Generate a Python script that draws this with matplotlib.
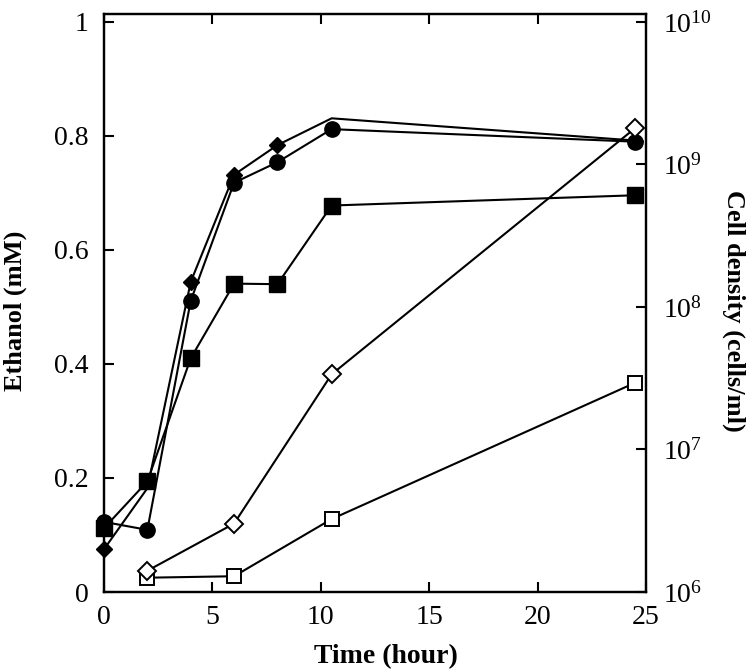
import matplotlib
matplotlib.use("Agg")
import matplotlib.pyplot as plt
import numpy as np

plt.rcParams['font.family'] = ['Liberation Serif', 'DejaVu Serif']
plt.rcParams['mathtext.fontset'] = 'custom'
plt.rcParams['mathtext.rm'] = 'Liberation Serif'
plt.rcParams['mathtext.it'] = 'Liberation Serif:italic'
plt.rcParams['mathtext.bf'] = 'Liberation Serif:bold'

# ---- data ----
time_full = [0, 2, 4, 6, 8, 10.5, 24.5]
ethanol_diamond = [0.075, 0.182, 0.544, 0.732, 0.784, 0.831, 0.792]
ethanol_circle = [0.123, 0.109, 0.511, 0.718, 0.754, 0.812, 0.790]
ethanol_square = [0.112, 0.194, 0.410, 0.541, 0.540, 0.678, 0.696]

time_cells = [2, 6, 10.5, 24.5]
cells_diamond = [1.41e6, 3.02e6, 3.37e7, 1.80e9]
cells_square = [1.26e6, 1.29e6, 3.25e6, 2.94e7]

xticks = [0, 5, 10, 15, 20, 25]
yticks_left = [0, 0.2, 0.4, 0.6, 0.8, 1.0]
yticklabels_left = ['0', '0.2', '0.4', '0.6', '0.8', '1']
yticks_right = [1e6, 1e7, 1e8, 1e9, 1e10]

fig = plt.figure(figsize=(7.5, 6.72), dpi=100)
ax = fig.add_axes([104/750, 1-592/672, 542/750, 578/672])

lw = 1.5
ax.plot(time_full, ethanol_diamond, '-', color='black', lw=lw, marker='D',
        ms=8.5, mfc='black', mec='black', markevery=[0, 2, 3, 4, 6],
        zorder=3, clip_on=False)
ax.plot(time_full, ethanol_circle, '-', color='black', lw=lw, marker='o',
        ms=11, mfc='black', mec='black', zorder=4, clip_on=False)
ax.plot(time_full, ethanol_square, '-', color='black', lw=lw, marker='s',
        ms=12, mfc='black', mec='black', zorder=5, clip_on=False)

ax.set_xlim(0, 25)
ax.set_ylim(0, 1.014)
ax.set_xticks(xticks)
ax.set_xticklabels([str(t) for t in xticks])
ax.set_yticks(yticks_left)
ax.set_yticklabels(yticklabels_left)
ax.tick_params(axis='both', direction='in', length=7, width=1.5, labelsize=20)
ax.tick_params(axis='y', pad=11)
ax.tick_params(axis='x', pad=9, top=True)
for s in ax.spines.values():
    s.set_linewidth(1.6)

ax.set_xlabel('Time (hour)', fontsize=20, fontweight='bold')
ax.xaxis.label.set_va('center')
ax.xaxis.set_label_coords(0.521, -0.1125)
ax.set_ylabel('Ethanol (mM)', fontsize=19, fontweight='bold')
ax.yaxis.label.set_va('center')
ax.yaxis.set_label_coords(-0.164, 0.486)

ax2 = ax.twinx()
ax2.set_yscale('log')
ax2.plot(time_cells, cells_square, '-', color='black', lw=lw, marker='s',
         ms=10.5, mfc='white', mec='black', mew=1.4, zorder=5, clip_on=False)
ax2.plot(time_cells, cells_diamond, '-', color='black', lw=lw, marker='D',
         ms=9, mfc='white', mec='black', mew=1.4, zorder=6, clip_on=False)
ax2.set_ylim(1e6, 10**(6 + 4*1.014))
ax2.set_yticks(yticks_right)
ax2.set_yticklabels([r'$10^{%d}$' % int(np.log10(v)) for v in yticks_right])
ax2.yaxis.set_minor_locator(matplotlib.ticker.NullLocator())
ax2.tick_params(axis='y', direction='in', length=7, width=1.5, labelsize=20, pad=12)
for s in ax2.spines.values():
    s.set_linewidth(1.6)
ax2.set_ylabel('Cell density (cells/ml)', fontsize=19, fontweight='bold',
               rotation=270)
ax2.yaxis.label.set_va('center')
ax2.yaxis.set_label_coords(1.161, 0.486)

fig.savefig('out.png', dpi=100)
